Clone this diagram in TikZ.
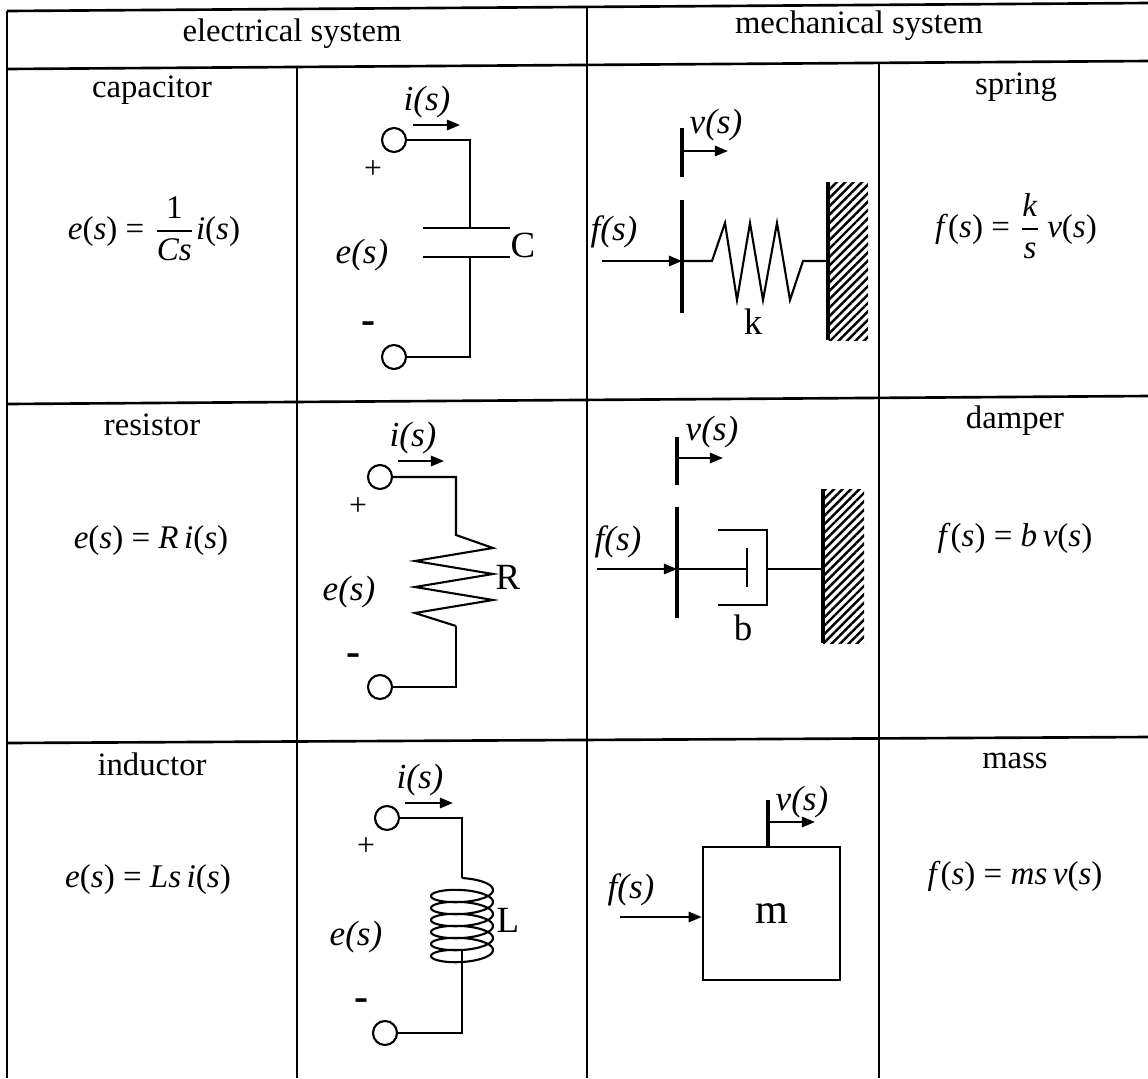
\documentclass[tikz,border=0pt]{standalone}
\usepackage{fontspec}
\setmainfont{Liberation Serif}
\usepackage{tikz}
\usetikzlibrary{arrows.meta, patterns.meta, positioning}
\newcommand{\vv}[1]{\textit{#1}}
\tikzstyle{tline} = [draw, line width=0.75pt]
\tikzstyle{wire} = [draw, line width=0.6pt]
\tikzstyle{pline} = [draw, line width=0.9pt]
\tikzstyle{term} = [circle, draw, line width=0.6pt, minimum size=0.24cm, inner sep=0pt]
\tikzstyle{iarrow} = [draw, line width=0.65pt, -{Triangle[length=3.7pt, width=2.9pt]}]
\tikzstyle{hatch} = [pattern={Lines[angle=45, distance=1.7pt, line width=0.7pt]}]
\tikzstyle{ttext} = [inner sep=0pt, anchor=base, font=\fontsize{9.3}{11}\selectfont]
\tikzstyle{etext} = [inner sep=0pt, anchor=base, font=\fontsize{9.4}{11}\selectfont]
\tikzstyle{stext} = [inner sep=0pt, font=\fontsize{10}{12}\selectfont\itshape]
\tikzstyle{ctext} = [inner sep=0pt, font=\fontsize{10.5}{12}\selectfont]
\tikzstyle{sgn} = [inner sep=0pt, font=\fontsize{9}{11}\selectfont]
\tikzstyle{msgn} = [inner sep=0pt, font=\fontsize{12}{12}\selectfont\bfseries]
\tikzstyle{massbox} = [draw, line width=0.7pt, minimum width=1.37cm, minimum height=1.33cm, inner sep=0pt, font=\fontsize{12}{14}\selectfont]

\begin{document}
\begin{tikzpicture}[x=0.01cm, y=-0.01cm]
	\useasboundingbox (0,0) rectangle (1148,1078);

	% table
	\path [tline] (7,11) -- (1148,3);
	\path [tline] (7,69) -- (1148,61);
	\path [tline] (7,404) -- (1148,396);
	\path [tline] (7,743) -- (1148,737);
	\path [tline] (7,11) -- (7,1078);
	\path [tline] (587,7) -- (587,1078);
	\path [tline] (297,68) -- (297,1078);
	\path [tline] (879,62) -- (879,1078);

	\node [ttext] (helec) at (292,41) {electrical system};
	\node [ttext] (hmech) at (859,33) {mechanical system};
	\node [ttext] (capname) at (152,97) {capacitor};
	\node [ttext] (resname) at (152,435) {resistor};
	\node [ttext] (indname) at (152,775) {inductor};
	\node [ttext] (sprname) at (1016,94) {spring};
	\node [ttext] (dmpname) at (1015,428) {damper};
	\node [ttext] (masname) at (1015,768) {mass};

	\node [etext] (capeq) at (154,239) {\vv{e}(\vv{s}) = $\displaystyle\frac{\mbox{1}}{\mbox{\vv{Cs}}}$\vv{i}(\vv{s})};
	\node [etext] (reseq) at (151,548) {\vv{e}(\vv{s}) = \vv{R}\,\vv{i}(\vv{s})};
	\node [etext] (indeq) at (148,887) {\vv{e}(\vv{s}) = \vv{Ls}\,\vv{i}(\vv{s})};
	\node [etext] (spreq) at (1016,237) {\vv{f}(\vv{s}) = $\displaystyle\frac{\mbox{\vv{k}}}{\mbox{\vv{s}}}$\,\vv{v}(\vv{s})};
	\node [etext] (dmpeq) at (1015,546) {\vv{f}(\vv{s}) = \vv{b}\,\vv{v}(\vv{s})};
	\node [etext] (maseq) at (1015,884) {\vv{f}(\vv{s}) = \vv{ms}\,\vv{v}(\vv{s})};

	% capacitor
	\node [term] (ct1) at (394,140) {};
	\node [term] (ct2) at (394,357) {};
	\coordinate (cc1) at (470,228);
	\coordinate (cc2) at (470,257);
	\path [wire] (ct1) -| (cc1);
	\path [wire] (ct2) -| (cc2);
	\path [wire] (423,228) -- (510,228);
	\path [wire] (423,257) -- (510,257);
	\node [ctext] (cC) at (523,245) {C};
	\node [sgn] (cplus) at (373,170) {+};
	\node [msgn] (cminus) at (369,328) {-};
	\node [stext] (ce) at (362,255) {e(s)};
	\node [stext] (ci) at (427,102) {i(s)};
	\coordinate (cia) at (413,125);
	\coordinate (cib) at (460,125);
	\path [iarrow] (cia) -- (cib);

	% resistor
	\node [term] (rt1) at (380,477) {};
	\node [term] (rt2) at (380,687) {};
	\coordinate (rr1) at (456,535);
	\coordinate (rr2) at (456,626);
	\path [wire] (rt1) -| (rr1) -- (493,548) -- (415,561) -- (493,574) -- (415,587) -- (493,600) -- (415,613) -- (rr2);
	\path [wire] (rt2) -| (rr2);
	\node [ctext] (rR) at (508,577) {R};
	\node [sgn] (rplus) at (358,507) {+};
	\node [msgn] (rminus) at (354,660) {-};
	\node [stext] (re) at (349,592) {e(s)};
	\node [stext] (ri) at (413,438) {i(s)};
	\coordinate (ria) at (398,461);
	\coordinate (rib) at (444,461);
	\path [iarrow] (ria) -- (rib);

	% inductor
	\node [term] (lt1) at (387,818) {};
	\node [term] (lt2) at (385,1033) {};
	\coordinate (ll1) at (462,878);
	\coordinate (ll2) at (462,950);
	\path [wire] (lt1) -| (ll1);
	\path [wire] plot [domain=0:2160, samples=361, variable=\t] ({462+31*sin(\t)}, {878+9*(1-cos(\t))+\t/30});
	\path [wire] (lt2) -| (ll2);
	\node [ctext] (lL) at (508,920) {L};
	\node [sgn] (lplus) at (366,847) {+};
	\node [msgn] (lminus) at (362,1005) {-};
	\node [stext] (le) at (356,937) {e(s)};
	\node [stext] (li) at (420,780) {i(s)};
	\coordinate (lia) at (405,803);
	\coordinate (lib) at (453,803);
	\path [iarrow] (lia) -- (lib);

	% spring
	\coordinate (sv1) at (682,128);
	\coordinate (sv2) at (682,177);
	\path [pline] (sv1) -- (sv2);
	\coordinate (sva) at (682,151);
	\coordinate (svb) at (728,151);
	\path [iarrow] (sva) -- (svb);
	\node [stext] (sv) at (716,125) {v(s)};
	\coordinate (sp1) at (682,200);
	\coordinate (sp2) at (682,313);
	\path [pline] (sp1) -- (sp2);
	\coordinate (sf) at (602,261);
	\coordinate (sq) at (682,261);
	\path [iarrow] (sf) -- (sq);
	\node [stext] (sfl) at (614,232) {f(s)};
	\coordinate (sw) at (828,261);
	\path [wire] (sq) -- (712,261) -- (725,223) -- (737,300) -- (750,223) -- (763,300) -- (777,223) -- (790,300) -- (803,261) -- (sw);
	\path [hatch] (828,182) rectangle (868,340);
	\path [pline] (828,182) -- (828,340);
	\node [ctext] (sk) at (753,322) {k};

	% damper
	\coordinate (dv1) at (677,437);
	\coordinate (dv2) at (677,485);
	\path [pline] (dv1) -- (dv2);
	\coordinate (dva) at (677,458);
	\coordinate (dvb) at (723,458);
	\path [iarrow] (dva) -- (dvb);
	\node [stext] (dv) at (712,432) {v(s)};
	\coordinate (dp1) at (677,507);
	\coordinate (dp2) at (677,618);
	\path [pline] (dp1) -- (dp2);
	\coordinate (df) at (597,569);
	\coordinate (dq) at (677,569);
	\path [iarrow] (df) -- (dq);
	\node [stext] (dfl) at (618,542) {f(s)};
	\coordinate (dpis) at (747,569);
	\path [wire] (dq) -- (dpis);
	\path [wire] (747,548) -- (747,587);
	\path [wire] (718,530) -- (767,530) -- (767,605) -- (718,605);
	\coordinate (dcyl) at (767,569);
	\coordinate (dw) at (823,569);
	\path [wire] (dcyl) -- (dw);
	\path [hatch] (823,489) rectangle (864,643);
	\path [pline] (823,489) -- (823,643);
	\node [ctext] (db) at (743,628) {b};

	% mass
	\node [massbox] (mass) at (771.5,913.5) {m};
	\coordinate (mv) at (768,800);
	\path [pline] (mv |- mass.north) -- (mv);
	\coordinate (mva) at (768,822);
	\coordinate (mvb) at (815,822);
	\path [iarrow] (mva) -- (mvb);
	\node [stext] (mvl) at (802,802) {v(s)};
	\coordinate (mf) at (620,917);
	\path [iarrow] (mf) -- (mf -| mass.west);
	\node [stext] (mfl) at (631,890) {f(s)};
\end{tikzpicture}
\end{document}
